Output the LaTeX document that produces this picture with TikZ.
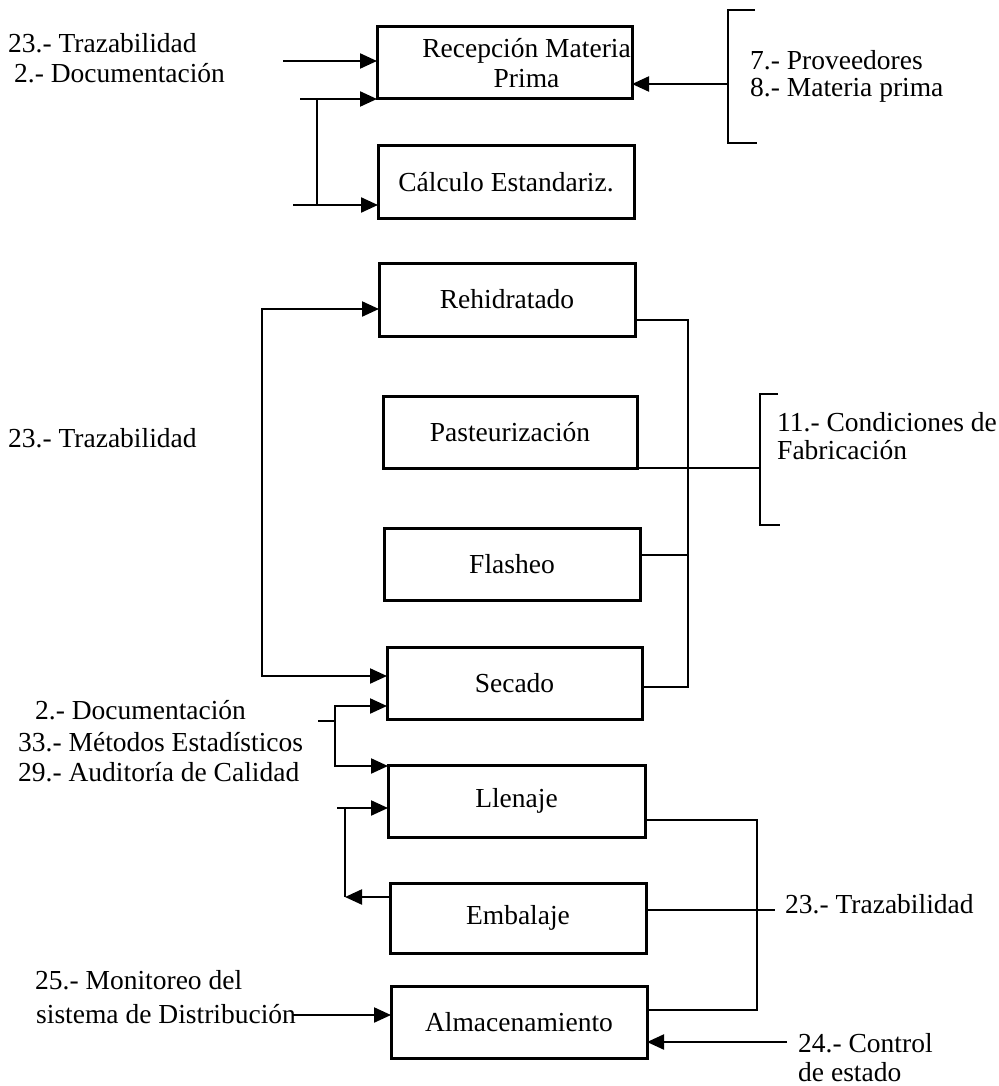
\documentclass[tikz,border=0pt]{standalone}
\usepackage{fontspec}
\setmainfont{Liberation Serif}
\usetikzlibrary{arrows.meta}
\tikzset{
  x=1pt, y=-1pt,
  every node/.style={font=\fontsize{27.5}{29}\selectfont},
  boxnode/.style={draw, line width=3pt, fill=white, minimum height=72pt, outer sep=0pt, inner sep=0pt},
  lbl/.style={anchor=west, inner sep=0pt},
  conn/.style={line width=2.2pt},
  arr/.style={conn, -{Triangle[length=17pt,width=15pt]}},
  darr/.style={conn, {Triangle[length=17pt,width=15pt]}-{Triangle[length=17pt,width=15pt]}},
}
\begin{document}
\begin{tikzpicture}
\useasboundingbox (0,0) rectangle (998,1086);
% boxes
\node[boxnode, minimum width=255pt, label={[xshift=22pt,align=center,inner sep=0pt,font=\fontsize{27.5}{30}\selectfont]center:Recepción Materia\\Prima}] (rec) at (504.5,63) {};
\node[boxnode, minimum width=256pt] (cal) at (506,182) {Cálculo Estandariz.};
\node[boxnode, minimum width=256pt, minimum height=73pt] (reh) at (507,299.5) {Rehidratado};
\node[boxnode, minimum width=254pt] (pas) at (510,432) {Pasteurización};
\node[boxnode, minimum width=256pt] (fla) at (512,564) {Flasheo};
\node[boxnode, minimum width=255pt] (sec) at (514.5,683) {Secado};
\node[boxnode, minimum width=257pt] (lle) at (516.5,801) {Llenaje};
\node[boxnode, minimum width=256pt, minimum height=70pt] (emb) at (518,918) {Embalaje};
\node[boxnode, minimum width=256pt] (alm) at (519,1022) {Almacenamiento};

% labels
\node[lbl] (t23a) at (8,43) {23.- Trazabilidad};
\node[lbl] (t2a) at (14,73) {2.- Documentación};
\node[lbl] (t7) at (750,60) {7.- Proveedores};
\node[lbl] (t8) at (750,90) {8.- Materia prima};
\node[lbl] (t23b) at (8,438) {23.- Trazabilidad};
\node[lbl] (t11) at (777,422) {11.- Condiciones de};
\node[lbl] (t11b) at (777,450) {Fabricación};
\node[lbl] (t2b) at (35,710) {2.- Documentación};
\node[lbl] (t33) at (18,742) {33.- Métodos Estadísticos};
\node[lbl] (t29) at (18,772) {29.- Auditoría de Calidad};
\node[lbl] (t23c) at (785,904) {23.- Trazabilidad};
\node[lbl] (t25) at (35,980) {25.- Monitoreo del};
\node[lbl] (t25b) at (36,1014) {sistema de Distribución};
\node[lbl] (t24) at (798,1043) {24.- Control};
\node[lbl] (t24b) at (798,1072) {de estado};

% free-end coordinates
\coordinate (c1) at (283,61);
\coordinate (c2) at (300,99);
\coordinate (j1) at (317,99);
\coordinate (j2) at (317,205);
\coordinate (c3) at (293,205);
\coordinate (bm) at (728,84);
\coordinate (l1) at (262,309);
\coordinate (l2) at (262,676);
\coordinate (r1) at (688,320);
\coordinate (r2) at (688,687);
\coordinate (r3) at (688,555);
\coordinate (pm) at (760,468);
\coordinate (s0) at (318,721);
\coordinate (sj) at (335,721);
\coordinate (s1) at (335,706);
\coordinate (s2) at (335,766);
\coordinate (e0) at (337,808);
\coordinate (e1) at (345,808);
\coordinate (e2) at (345,897);
\coordinate (q1) at (757,820);
\coordinate (q2) at (757,1010);
\coordinate (q3) at (775,910);
\coordinate (a1) at (787,1042);
\coordinate (m1) at (292,1015);

% top connectors
\draw[arr] (c1) -- (c1 -| rec.west);
\draw[arr] (c2) -- (c2 -| rec.west);
\draw[conn] (j1) -- (j2);
\draw[arr] (c3) -- (c3 -| cal.west);
% right bracket top
\draw[conn] (755,10) -- (728,10) -- (728,143) -- (757,143);
\draw[arr] (bm) -- (bm -| rec.east);

% left loop
\draw[darr] (l1 -| reh.west) -- (l1) -- (l2) -- (l2 -| sec.west);
% right loop
\draw[conn] (r1 -| reh.east) -- (r1) -- (r2) -- (r2 -| sec.east);
\draw[conn] (r3 -| fla.east) -- (r3);
% pasteurizacion bracket
\draw[conn] (pas.south east) -- (pm);
\draw[conn] (778,394) -- (760,394) -- (760,525) -- (780,525);

% secado / llenaje
\draw[conn] (s0) -- (sj);
\draw[darr] (s1 -| sec.west) -- (s1) -- (s2) -- (s2 -| lle.west);
% llenaje / embalaje
\draw[arr] (e0) -- (e0 -| lle.west);
\draw[arr] (e2 -| emb.west) -- (e2);
\draw[conn] (e2) -- (e1);
% right lower
\draw[conn] (q1 -| lle.east) -- (q1) -- (q2) -- (q2 -| alm.east);
\draw[conn] (q3 -| emb.east) -- (q3);
\draw[arr] (a1) -- (a1 -| alm.east);
\draw[arr] (m1) -- (m1 -| alm.west);
\end{tikzpicture}
\end{document}
